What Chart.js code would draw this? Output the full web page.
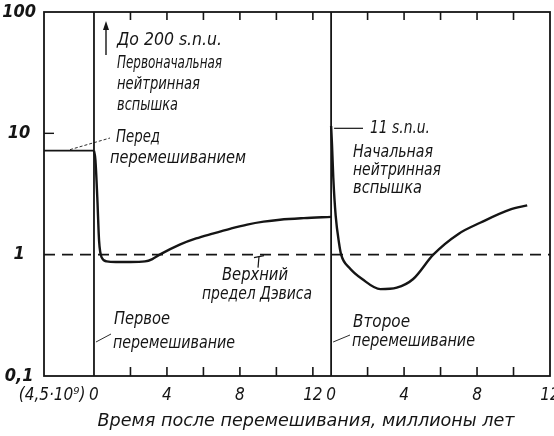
<!DOCTYPE html>
<html>
<head>
<meta charset="utf-8">
<script src="https://cdn.jsdelivr.net/npm/chart.js@4.4.1/dist/chart.umd.min.js"></script>
<style>
  html, body { margin: 0; background: #fff; }
  #wrap { width: 554px; height: 436px; }
</style>
</head>
<body>
<div id="wrap"><canvas id="chart"></canvas></div>
<script>
// chart of solar neutrino flux (s.n.u.) after core mixing episodes

const FONT = '"Liberation Sans Narrow", "DejaVu Sans Condensed", sans-serif';
const INK = '#151515';

// values
const preMixLevel = 7.2;
const firstTimes  = [0, 0.08, 0.18, 0.28, 0.42, 0.7, 1.2, 2, 2.8, 3.2, 3.6, 4.7, 5.6, 6.5, 7.5, 8.4, 9.3, 10.2, 11.5, 13];
const firstValues = [7.2, 6.0, 3.0, 1.3, 0.95, 0.88, 0.87, 0.87, 0.88, 0.92, 1.0, 1.21, 1.36, 1.49, 1.64, 1.77, 1.87, 1.94, 2.0, 2.05];
const secondTimes  = [0, 0.05, 0.12, 0.25, 0.44, 0.55, 1.0, 1.7, 2.7, 3.6, 4.5, 5.6, 7.0, 8.2, 9.8, 10.75];
const secondValues = [11.5, 8, 4.3, 2.1, 1.23, 1.0, 0.78, 0.63, 0.52, 0.535, 0.63, 1.0, 1.49, 1.84, 2.35, 2.55];
const davisLimit = 1;
const secondFlash = 11;

const yTickValues = [0.1, 1, 10, 100];
const yTickLabels = ['0,1', '1', '10', '100'];
const xTickValues = [0, 4, 8, 12];
const xTickLabels = ['0', '4', '8', '12'];
const minorTicks1 = [2, 4, 6, 8, 10, 12];
const minorTicks2 = [2, 4, 6, 8, 10];
const preMixLabel = '(4,5·10⁹)';
const xTitle = 'Время после перемешивания, миллионы лет';

// layout of the broken axis
const X_MIN = -2.74, X_MAX = 25, PANEL2 = 13, PRE_AT = -2.3;

function pts(ts, vs, off) {
  return ts.map((t, i) => ({ x: t + off, y: vs[i] }));
}

const lineStyle = { borderColor: INK, borderWidth: 2.4, pointRadius: 0, fill: false, cubicInterpolationMode: 'monotone' };

const datasets = [
  Object.assign({ data: [{ x: X_MIN, y: preMixLevel }, { x: 0, y: preMixLevel }] }, lineStyle, { borderWidth: 1.8 }),
  Object.assign({ data: pts(firstTimes, firstValues, 0) }, lineStyle),
  Object.assign({ data: pts(secondTimes, secondValues, PANEL2) }, lineStyle),
  { data: [{ x: X_MIN, y: davisLimit }, { x: X_MAX, y: davisLimit }], borderColor: INK, borderWidth: 1.6,
    borderDash: [11, 7], pointRadius: 0, fill: false }
];

function xLabel(v) {
  if (v === PRE_AT) return preMixLabel;
  const i = xTickValues.indexOf(v >= PANEL2 ? v - PANEL2 : v);
  return i < 0 ? '' : xTickLabels[i];
}

// italic text squeezed to the width it has in the scan
function text(ctx, s, x, y, w, align) {
  ctx.save();
  ctx.font = 'italic 18px ' + FONT;
  ctx.fillStyle = INK;
  ctx.textBaseline = 'middle';
  const k = w / ctx.measureText(s).width;
  const left = align === 'center' ? x - w / 2 : x;
  ctx.translate(left, y);
  ctx.scale(k, 1);
  ctx.fillText(s, 0, 0);
  ctx.restore();
}

function seg(ctx, x1, y1, x2, y2, w) {
  ctx.lineWidth = w || 1;
  ctx.beginPath(); ctx.moveTo(x1, y1); ctx.lineTo(x2, y2); ctx.stroke();
}

const frame = {
  id: 'frame',
  afterDatasetsDraw(chart) {
    const { ctx, chartArea: a, scales: { x, y } } = chart;
    ctx.save();
    ctx.strokeStyle = INK;
    ctx.lineWidth = 1.8;
    ctx.strokeRect(a.left, a.top, a.right - a.left, a.bottom - a.top);
    // panel separators
    [0, PANEL2].forEach(v => seg(ctx, x.getPixelForValue(v), a.top, x.getPixelForValue(v), a.bottom, 1.8));
    // minor ticks top and bottom
    const ticks = minorTicks1.concat(minorTicks2.map(v => v + PANEL2));
    ticks.forEach(v => {
      const px = x.getPixelForValue(v);
      seg(ctx, px, a.top, px, a.top + 8, 1.6);
      seg(ctx, px, a.bottom, px, a.bottom - 9, 1.6);
    });
    // tick at 10 on left
    const y10 = y.getPixelForValue(10);
    seg(ctx, a.left, y10, a.left + 10, y10, 1.4);

    // arrow: off-scale first flash
    seg(ctx, 106, 55, 106, 28, 1.4);
    ctx.fillStyle = INK;
    ctx.beginPath(); ctx.moveTo(106, 21); ctx.lineTo(103, 30); ctx.lineTo(109, 30); ctx.closePath(); ctx.fill();

    // leader lines
    ctx.setLineDash([3, 2]);
    seg(ctx, 70, y.getPixelForValue(preMixLevel) - 1, 110, 138, 0.9);
    ctx.setLineDash([]);
    seg(ctx, x.getPixelForValue(0) + 2, 342, 111, 334, 0.9);
    seg(ctx, x.getPixelForValue(PANEL2) + 2, 342, 350, 335, 0.9);
    const y11 = y.getPixelForValue(secondFlash);
    seg(ctx, x.getPixelForValue(PANEL2) + 3, y11, 363, y11, 1.2);
    // Davis marker
    const yd = y.getPixelForValue(davisLimit);
    seg(ctx, 259, yd + 2, 258, yd + 13, 1.2);
    seg(ctx, 254, yd + 3, 264, yd + 1, 1.2);

    // annotations
    text(ctx, 'До 200 s.n.u.', 117, 40, 105);
    text(ctx, 'Первоначальная', 117, 63, 105);
    text(ctx, 'нейтринная', 117, 84, 83);
    text(ctx, 'вспышка', 117, 105, 61);
    text(ctx, 'Перед', 116, 137, 44);
    text(ctx, 'перемешиванием', 110, 158, 136);
    text(ctx, 'Верхний', 255, 275, 66, 'center');
    text(ctx, 'предел Дэвиса', 257, 294, 110, 'center');
    text(ctx, 'Первое', 114, 319, 56);
    text(ctx, 'перемешивание', 113, 343, 122);
    text(ctx, '11 s.n.u.', 370, y11, 60);
    text(ctx, 'Начальная', 353, 152, 80);
    text(ctx, 'нейтринная', 353, 170, 88);
    text(ctx, 'вспышка', 353, 188, 69);
    text(ctx, 'Второе', 353, 322, 57);
    text(ctx, 'перемешивание', 352, 341, 123);
    text(ctx, xTitle, 306, 421, 417, 'center');
    ctx.restore();
  }
};

new Chart(document.getElementById('chart'), {
  type: 'line',
  data: { datasets },
  options: {
    responsive: true,
    maintainAspectRatio: false,
    animation: false,
    layout: { padding: { top: 12, right: 4, left: 0, bottom: 0 } },
    plugins: { legend: { display: false }, tooltip: { enabled: false } },
    scales: {
      x: {
        type: 'linear', min: X_MIN, max: X_MAX,
        grid: { display: false, drawTicks: false },
        border: { display: false },
        afterBuildTicks: s => {
          const v = [PRE_AT].concat(xTickValues, xTickValues.map(t => t + PANEL2));
          s.ticks = v.map(value => ({ value }));
        },
        afterFit: s => { s.height = 60; s.paddingLeft = 0; s.paddingRight = 0; },
        ticks: {
          autoSkip: false, maxRotation: 0, padding: 9, color: INK,
          font: { family: FONT, size: 17, style: 'italic' },
          callback: v => xLabel(v)
        }
      },
      y: {
        type: 'logarithmic', min: 0.1, max: 100,
        grid: { display: false, drawTicks: false },
        border: { display: false },
        afterBuildTicks: s => { s.ticks = yTickValues.map(value => ({ value })); },
        afterFit: s => { s.width = 44; s.paddingTop = 0; s.paddingBottom = 0; },
        ticks: {
          color: INK, padding: 8, crossAlign: 'center',
          font: { family: FONT, size: 18, style: 'italic', weight: 'bold' },
          callback: v => {
            const i = yTickValues.findIndex(t => Math.abs(t - v) < 1e-9);
            return i < 0 ? '' : yTickLabels[i];
          }
        }
      }
    }
  },
  plugins: [frame]
});
</script>
</body>
</html>
